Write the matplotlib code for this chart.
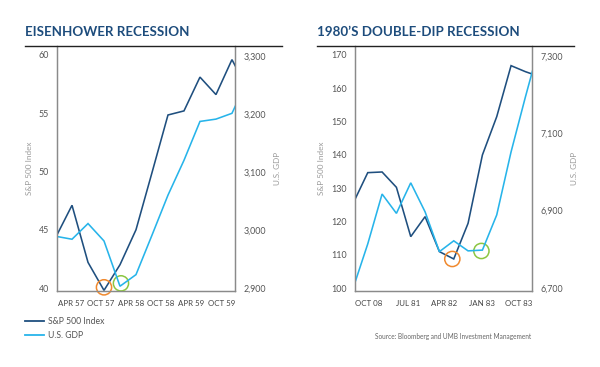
import matplotlib
matplotlib.use("Agg")
import matplotlib.pyplot as plt
from matplotlib.lines import Line2D
from matplotlib.ticker import FuncFormatter

plt.rcParams['font.family'] = ['Lato', 'DejaVu Sans']

# ---------------- data ----------------
# Eisenhower recession (quarterly points)
eis_sp500 = [44.4, 47.1, 42.2, 39.8, 42.0, 45.0, 49.9, 54.85, 55.2, 58.1, 56.6, 59.6, 57.0]
eis_gdp = [2989, 2984, 3011, 2981, 2903, 2923, 2991, 3060, 3120, 3187, 3191, 3201, 3260]
eis_xlabels = ["APR 57", "OCT 57", "APR 58", "OCT 58", "APR 59", "OCT 59"]
eis_xlabel_pos = [0.94, 2.81, 4.69, 6.56, 8.44, 10.375]
eis_sp_ticks = [40, 45, 50, 55, 60]
eis_gdp_ticks = [2900, 3000, 3100, 3200, 3300]
eis_sp_trough = (3.0, 40.06)
eis_gdp_trough = (4.06, 40.4)

# 1980's double-dip recession
dd_sp500 = [125.7, 134.7, 134.9, 130.3, 115.5, 121.5, 111.0, 108.8, 119.5, 140.0, 151.5, 166.8, 165.0, 163.5]
dd_gdp = [6702, 6814, 6943, 6893, 6972, 6897, 6794, 6822, 6796, 6798, 6889, 7052, 7194, 7330]
dd_xlabels = ["OCT 08", "JUL 81", "APR 82", "JAN 83", "OCT 83"]
dd_xlabel_pos = [1.04, 3.83, 6.34, 9.0, 11.56]
dd_sp_ticks = [100, 110, 120, 130, 140, 150, 160, 170]
dd_gdp_ticks = [6700, 6900, 7100, 7300]
dd_sp_trough = (6.9, 108.8)
dd_gdp_trough = (8.93, 111.2)

titles = ["EISENHOWER RECESSION", "1980\u2019S DOUBLE-DIP RECESSION"]
series_names = ["S&P 500 Index", "U.S. GDP"]
source_text = "Source: Bloomberg and UMB Investment Management"

# ---------------- styles ----------------
DARK = "#1f4f7f"
LIGHT = "#27b4ea"
ORANGE = "#f0892e"
GREEN = "#8cc641"
TITLE_C = "#1d4c7c"
SPINE_C = "#8a8a8a"
TICK_C = "#555555"
XTICK_C = "#444444"
LABEL_C = "#9a9a9a"

W, H = 600, 367
fig = plt.figure(figsize=(6, 3.67), dpi=100)


def fx(px):
    return px / W


def fy(py):
    return 1 - py / H


def make_panel(left_px, right_px, sp, gdp, xlabels, xpos, sp_ticks, gdp_ticks,
               sp_lim, gdp_lim, xlim, sp_trough, gdp_trough, title, title_x, rule):
    top_px, bot_px = 46, 290.7
    ax = fig.add_axes([fx(left_px), fy(bot_px), fx(right_px - left_px), (bot_px - top_px) / H])
    ax2 = ax.twinx()
    x = list(range(len(sp)))
    ax.plot(x, sp, color=DARK, lw=1.15, zorder=3, solid_joinstyle='miter')
    ax2.plot(x, gdp, color=LIGHT, lw=1.15, zorder=2, solid_joinstyle='miter')
    ax.scatter([sp_trough[0]], [sp_trough[1]], s=120, facecolors='none',
               edgecolors=ORANGE, linewidths=1.1, zorder=5, clip_on=False)
    ax.scatter([gdp_trough[0]], [gdp_trough[1]], s=120, facecolors='none',
               edgecolors=GREEN, linewidths=1.1, zorder=5, clip_on=False)
    ax.set_xlim(*xlim)
    ax.set_ylim(*sp_lim)
    ax2.set_ylim(*gdp_lim)
    ax.set_xticks(xpos)
    ax.set_xticklabels(xlabels)
    ax.set_yticks(sp_ticks)
    ax2.set_yticks(gdp_ticks)
    ax2.yaxis.set_major_formatter(FuncFormatter(lambda v, p: f"{int(v):,}"))
    for a in (ax, ax2):
        a.set_zorder(1)
        a.patch.set_visible(False)
        for s in a.spines.values():
            s.set_color(SPINE_C)
            s.set_linewidth(0.9)
        a.spines['top'].set_visible(False)
        a.tick_params(length=0, colors=TICK_C, labelsize=6.4)
    ax.tick_params(axis='x', pad=6.5, labelsize=5.7, colors=XTICK_C)
    ax.tick_params(axis='y', pad=6)
    ax2.tick_params(axis='y', pad=6)
    ax.set_ylabel("S&P 500 Index", color=LABEL_C, fontsize=5.9, labelpad=4)
    ax2.set_ylabel("U.S. GDP", color=LABEL_C, fontsize=5.9, labelpad=6)
    fig.text(fx(title_x), fy(31.5), title, color=TITLE_C, fontsize=9.6,
             fontweight='bold', ha='left', va='center')
    fig.add_artist(Line2D([fx(rule[0]), fx(rule[1])], [fy(46), fy(46)],
                          color="#222222", lw=1.0))
    return ax, ax2


axL, axL2 = make_panel(57.3, 235, eis_sp500, eis_gdp, eis_xlabels, eis_xlabel_pos,
                       eis_sp_ticks, eis_gdp_ticks, (39.77, 60.77), (2895.3, 3317),
                       (0.08, 11.19), eis_sp_trough, eis_gdp_trough, titles[0], 25, (25, 282))
axR, axR2 = make_panel(355, 531.7, dd_sp500, dd_gdp, dd_xlabels, dd_xlabel_pos,
                       dd_sp_ticks, dd_gdp_ticks, (99.28, 172.7), (6693, 7325.9),
                       (0.11, 12.44), dd_sp_trough, dd_gdp_trough, titles[1], 317, (317, 574))

handles = [Line2D([], [], color=DARK, lw=1.3), Line2D([], [], color=LIGHT, lw=1.3)]
fig.legend(handles, series_names, loc='upper left', bbox_to_anchor=(fx(22), fy(314.5)),
           frameon=False, fontsize=6.2, handlelength=2.2, handletextpad=0.5,
           labelspacing=0.55, borderaxespad=0, borderpad=0.3, labelcolor=TICK_C)

fig.text(fx(531), fy(336), source_text, ha='right', va='center', fontsize=4.7, color="#666666")

fig.savefig("out.png", dpi=100)
